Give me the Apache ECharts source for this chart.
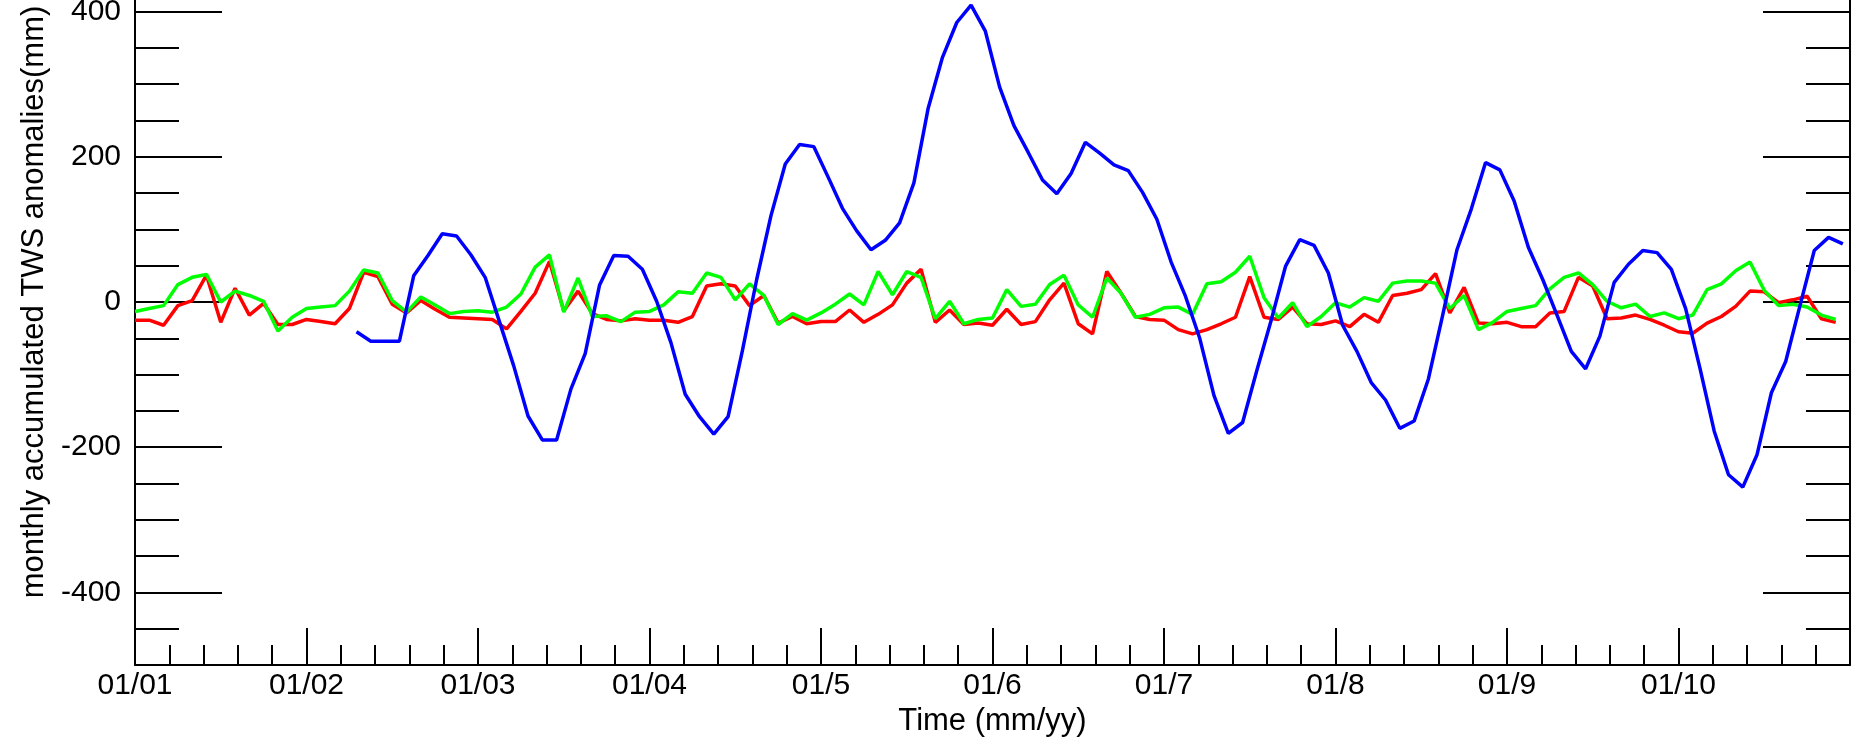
<!DOCTYPE html>
<html>
<head>
<meta charset="utf-8">
<title>TWS anomalies</title>
<script src="https://cdn.jsdelivr.net/npm/echarts@6.0.0/dist/echarts.min.js"></script>
<style>
  html, body { margin: 0; padding: 0; background: #fff; overflow: hidden; width: 1856px; height: 745px; }
  /* the original figure is cropped at the top: plot runs to +500, image starts near +416 */
  #chart { position: absolute; left: 0; top: -61px; width: 1856px; height: 806px; }
</style>
</head>
<body>
<div id="chart"></div>
<script>
// Monthly series, Jan 2001 .. Dec 2010 (one value per month)
const startYear = 2001;
const xTickLabels = ['01/01', '01/02', '01/03', '01/04', '01/5', '01/6', '01/7', '01/8', '01/9', '01/10'];

const redValues = [
  -25, -25, -32, -5, 2, 37, -28, 19, -18, -2, -31, -31,
  -24, -27, -30, -9, 41, 35, -3, -15, 2, -10, -21, -22,
  -23, -24, -37, -13, 12, 56, -12, 15, -16, -24, -26, -23,
  -25, -25, -28, -20, 22, 25, 22, -5, 9, -29, -20, -30,
  -27, -27, -11, -28, -17, -4, 26, 45, -28, -11, -31, -29,
  -32, -10, -31, -27, 3, 26, -30, -44, 42, 12, -20, -24,
  -25, -38, -44, -38, -30, -21, 35, -21, -24, -7, -30, -31,
  -26, -34, -17, -28, 9, 12, 17, 39, -15, 20, -29, -30,
  -28, -34, -34, -15, -13, 34, 22, -23, -22, -18, -24, -32,
  -41, -43, -29, -20, -6, 15, 14, -1, 3, 8, -23, -28
];

const greenValues = [
  -13, -9, -5, 24, 34, 38, 0, 15, 9, 1, -40, -21,
  -9, -7, -5, 15, 44, 40, 2, -14, 7, -4, -16, -13,
  -12, -14, -7, 11, 48, 65, -14, 33, -20, -19, -27, -14,
  -13, -4, 14, 12, 40, 34, 3, 25, 9, -31, -16, -25,
  -15, -3, 11, -4, 42, 10, 42, 34, -23, 1, -30, -24,
  -22, 17, -6, -3, 24, 37, -4, -21, 33, 12, -21, -17,
  -8, -7, -17, 25, 28, 41, 63, 6, -22, -1, -34, -20,
  -1, -7, 6, 1, 26, 29, 29, 26, -9, 9, -38, -28,
  -13, -9, -5, 18, 34, 40, 24, 1, -8, -3, -20, -15,
  -23, -18, 17, 25, 43, 55, 16, -5, -3, -7, -18, -24
];

// blue series starts in April 2002 (month index 15), sampled mid-month
const blueStartMonth = 15;
const blueValues = [
  -41, -54, -54, -54, 36, 64, 94, 91, 65, 34, -27, -88,
  -157, -190, -190, -120, -71, 23, 64, 63, 45, 1, -56, -127,
  -158, -182, -158, -67, 31, 119, 190, 217, 214, 172, 129, 98,
  72, 85, 109, 164, 267, 337, 385, 409, 373, 296, 243, 206,
  168, 149, 177, 220, 205, 189, 181, 151, 114, 55, 8, -50,
  -129, -181, -166, -94, -25, 49, 86, 78, 40, -32, -68, -111,
  -135, -174, -164, -106, -18, 72, 128, 192, 182, 139, 75, 31,
  -18, -68, -92, -47, 27, 52, 71, 68, 45, -9, -91, -178,
  -238, -255, -210, -125, -82, -5, 71, 89, 80
];

const yLabelValues = [-400, -200, 0, 200, 400];
const yMinorTickValues = [-450, -350, -300, -250, -150, -100, -50, 50, 100, 150, 250, 300, 350, 450];

const FONT = '"Liberation Sans", Arial, Helvetica, sans-serif';

function monthPairs(values, firstMonth, offset) {
  return values.map((v, i) => [startYear + (firstMonth + i + offset) / 12, v]);
}

function yAxisPair(position, withLabels) {
  const base = {
    type: 'value',
    position: position,
    min: -500,
    max: 500,
    splitLine: { show: false }
  };
  return [
    Object.assign({}, base, {
      axisLine: { show: true, onZero: false, lineStyle: { color: '#000', width: 2 } },
      axisTick: { show: true, inside: true, length: 44, customValues: yMinorTickValues, lineStyle: { color: '#000', width: 2 } },
      axisLabel: withLabels
        ? { show: true, customValues: yLabelValues, fontSize: 30, color: '#000', fontFamily: FONT, margin: 14 }
        : { show: false },
      name: withLabels ? 'monthly accumulated TWS anomalies(mm)' : '',
      nameLocation: 'middle',
      nameGap: 84,
      nameTextStyle: { fontSize: 31, color: '#000', fontFamily: FONT }
    }),
    Object.assign({}, base, {
      axisLine: { show: false },
      axisTick: { show: true, inside: true, length: 87, customValues: yLabelValues, lineStyle: { color: '#000', width: 2 } },
      axisLabel: { show: false }
    })
  ];
}

const chart = echarts.init(document.getElementById('chart'));

const option = {
  backgroundColor: '#fff',
  animation: false,
  grid: { left: 135, right: 6, top: 0, bottom: 80 },
  xAxis: {
    type: 'value',
    min: startYear,
    max: startYear + 10,
    interval: 1,
    axisLine: { show: true, onZero: false, lineStyle: { color: '#000', width: 2 } },
    axisTick: { show: true, inside: true, length: 37, lineStyle: { color: '#000', width: 2 } },
    minorTick: { show: true, splitNumber: 5, length: 20, lineStyle: { color: '#000', width: 2 } },
    axisLabel: {
      fontSize: 30,
      color: '#000',
      fontFamily: FONT,
      margin: 6,
      formatter: v => xTickLabels[Math.round(v - startYear)] || ''
    },
    splitLine: { show: false },
    name: 'Time (mm/yy)',
    nameLocation: 'middle',
    nameGap: 40,
    nameTextStyle: { fontSize: 31, color: '#000', fontFamily: FONT }
  },
  yAxis: yAxisPair('left', true).concat(yAxisPair('right', false)),
  series: [
    {
      name: 'red',
      type: 'line',
      data: monthPairs(redValues, 0, 0),
      showSymbol: false,
      lineStyle: { color: '#ff0000', width: 3.5 },
      z: 2
    },
    {
      name: 'green',
      type: 'line',
      data: monthPairs(greenValues, 0, 0),
      showSymbol: false,
      lineStyle: { color: '#00ff00', width: 3.5 },
      z: 3
    },
    {
      name: 'blue',
      type: 'line',
      data: monthPairs(blueValues, blueStartMonth, 0.5),
      showSymbol: false,
      lineStyle: { color: '#0000ff', width: 3.5 },
      z: 4
    }
  ]
};

chart.setOption(option);
</script>
</body>
</html>
